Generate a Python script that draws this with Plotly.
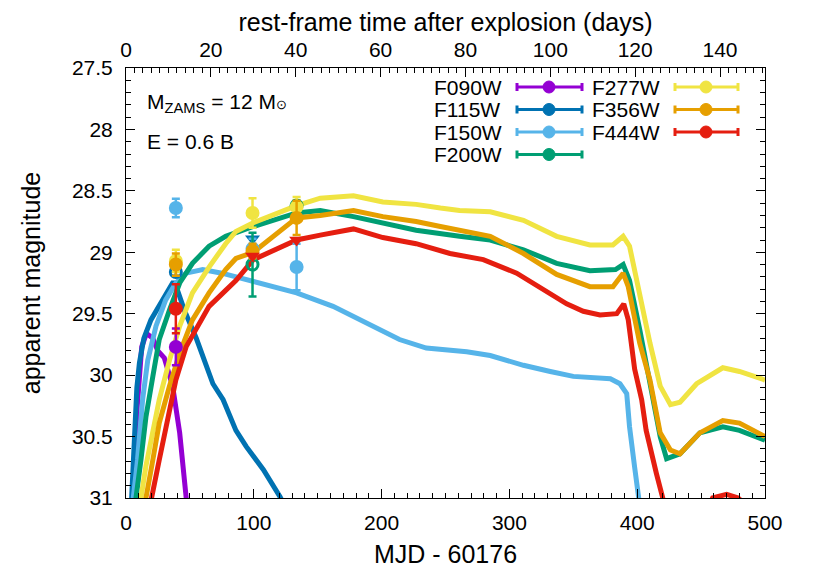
import plotly.graph_objects as go

# --- model light curves (MJD - 60176, apparent magnitude) -------------------

f090w_t = [3, 5.2, 8.4, 12.3, 16, 21, 24.8, 30, 36.5, 42, 47, 50]
f090w_m = [31.6, 31.0, 30.31, 29.77, 29.66, 29.7, 29.8, 29.86, 30.09, 30.47, 30.99, 31.3]

f115w_t = [3.5, 5, 6.5, 8.5, 10.5, 14, 19.5, 26, 32, 37, 40, 46, 55, 62, 68, 76, 86, 94,
           107.5, 120.5, 125]
f115w_m = [31.2, 30.9, 30.45, 30.1, 29.9, 29.7, 29.55, 29.44, 29.34, 29.24, 29.3, 29.48,
           29.7, 29.9, 30.07, 30.2, 30.45, 30.58, 30.77, 30.99, 31.08]

f150w_t = [4, 5.7, 9, 13, 17, 23.5, 31, 39, 47, 60, 75, 97, 133.5, 162, 188, 214, 235,
           266.6, 285, 311, 332, 350, 379, 386.5, 391.8, 394, 398, 401, 405]
f150w_m = [31.4, 31.0, 30.69, 30.2, 29.88, 29.6, 29.39, 29.25, 29.17, 29.14, 29.17, 29.23,
           29.33, 29.44, 29.58, 29.71, 29.78, 29.81, 29.84, 29.92, 29.97, 30.01, 30.03,
           30.07, 30.15, 30.42, 30.75, 30.99, 31.3]

f200w_t = [6, 7.8, 11.7, 15.6, 21, 26, 34, 42, 52, 65, 78, 99.6, 133.5, 152, 178, 201,
           227, 261, 285, 311, 337, 363, 383, 389, 394, 402, 410, 418, 423, 433.5, 449,
           467, 480, 500]
f200w_m = [31.3, 31.0, 30.69, 30.34, 30.01, 29.71, 29.47, 29.25, 29.09, 28.95, 28.87,
           28.79, 28.68, 28.66, 28.71, 28.76, 28.82, 28.87, 28.9, 28.98, 29.09, 29.15,
           29.14, 29.1, 29.23, 29.63, 30.04, 30.5, 30.68, 30.64, 30.47, 30.42, 30.45, 30.53]

f277w_t = [10, 11.7, 15.6, 21, 26, 34, 42, 52, 65, 78, 86, 99.6, 133.5, 152, 178, 201,
           227, 246, 261, 285, 311, 337, 363, 381, 389, 394, 402, 410, 418, 426, 433.5,
           446.5, 467, 480, 500]
f277w_m = [31.2, 31.0, 30.74, 30.47, 30.2, 29.88, 29.6, 29.33, 29.12, 28.93, 28.83, 28.76,
           28.62, 28.56, 28.54, 28.59, 28.61, 28.64, 28.66, 28.67, 28.74, 28.87, 28.94,
           28.94, 28.87, 28.95, 29.36, 29.74, 30.09, 30.24, 30.22, 30.07, 29.94, 29.97, 30.04]

f356w_t = [14, 15.6, 21, 26, 34, 42, 52, 65, 78, 86, 99.6, 133.5, 152, 178, 201, 227, 246,
           261, 285, 311, 337, 363, 381, 389, 393, 402, 410, 418, 426, 433.5, 449, 467,
           480, 500]
f356w_m = [31.2, 31.0, 30.69, 30.39, 30.09, 29.82, 29.55, 29.33, 29.14, 29.05, 29.0, 28.72,
           28.7, 28.66, 28.71, 28.75, 28.79, 28.82, 28.87, 29.01, 29.18, 29.28, 29.28,
           29.17, 29.28, 29.74, 30.04, 30.47, 30.61, 30.64, 30.47, 30.37, 30.39, 30.5]

f444w_t = [18, 20, 26, 32.6, 39, 47, 55, 65, 78, 86, 99.6, 133.5, 152, 178, 201, 227,
           253.5, 279.6, 305.7, 331.8, 344.8, 357.8, 370.9, 384, 389.5, 393, 398, 403.5,
           407, 415, 420, 430, 445, 459, 470, 479, 490, 500]
f444w_m = [31.2, 31.0, 30.69, 30.34, 30.04, 29.77, 29.63, 29.44, 29.31, 29.23, 29.06, 28.9,
           28.86, 28.81, 28.88, 28.93, 29.01, 29.06, 29.17, 29.33, 29.42, 29.48, 29.51,
           29.5, 29.42, 29.55, 29.95, 30.2, 30.45, 30.8, 30.99, 31.4, 31.3, 31.0, 30.97,
           31.0, 31.1, 31.15]

# --- observed photometry ---------------------------------------------------

obs = {
    "F090W": dict(t=[39], m=[29.77], e=[0.15]),
    "F115W": dict(t=[39], m=[29.16], e=[0.03]),
    "F150W": dict(t=[39, 99, 133.5], m=[28.64, 28.97, 29.12], e=[0.075, 0.08, 0.19]),
    "F200W": dict(t=[99, 133.5], m=[29.1, 28.62], e=[0.26, 0.04]),
    "F277W": dict(t=[39, 99, 133.5], m=[29.07, 28.68, 28.63], e=[0.09, 0.12, 0.08]),
    "F356W": dict(t=[39, 99, 133.5], m=[29.1, 28.99, 28.72], e=[0.09, 0.06, 0.14]),
    "F444W": dict(t=[39], m=[29.46], e=[0.2]),
}
# upper limits (down triangles)
ulim = {
    "F115W": dict(t=[99], m=[28.89]),
    "F444W": dict(t=[99, 133.5], m=[29.03, 28.9]),
}
open_markers = {"F115W", "F200W"}

filters = ["F090W", "F115W", "F150W", "F200W", "F277W", "F356W", "F444W"]
colors = ["#9400d3", "#0072b2", "#56b4e9", "#009e73", "#f0e442", "#e69f00", "#e51e10"]
curves = [(f090w_t, f090w_m), (f115w_t, f115w_m), (f150w_t, f150w_m), (f200w_t, f200w_m),
          (f277w_t, f277w_m), (f356w_t, f356w_m), (f444w_t, f444w_m)]

ONE_PLUS_Z = 3.32
FONT = "Liberation Sans, Arial, sans-serif"
FS = 21

fig = go.Figure()

for name, col, (t, m) in zip(filters, colors, curves):
    fig.add_trace(go.Scatter(x=t, y=m, mode="lines", line=dict(color=col, width=5),
                             showlegend=False, hoverinfo="skip"))

for name, col in zip(filters, colors):
    o = obs[name]
    sym = "circle-open" if name in open_markers else "circle"
    fig.add_trace(go.Scatter(
        x=o["t"], y=o["m"], mode="markers",
        marker=dict(color=col, size=11, symbol=sym, line=dict(color=col, width=3)),
        error_y=dict(type="data", array=o["e"], color=col, thickness=2.5, width=4),
        showlegend=False,
    ))
    if name in ulim:
        u = ulim[name]
        fig.add_trace(go.Scatter(
            x=u["t"], y=u["m"], mode="markers",
            marker=dict(color=col, size=13, symbol="triangle-down"),
            showlegend=False,
        ))

# dummy trace so the rest-frame axis is drawn
fig.add_trace(go.Scatter(x=[0], y=[27.4], xaxis="x2", mode="markers",
                         marker=dict(opacity=0), showlegend=False, hoverinfo="skip"))

# --- hand-built gnuplot style legend (label left, sample right) ------------
# page pixels of the plot frame -> paper coords
W, H, L, B = 639, 430, 126, 498


def px(x):
    return (x - L) / W


def py(y):
    return (B - y) / H


shapes = []
annotations = []
for i, (name, col) in enumerate(zip(filters, colors)):
    c, r = (0, i) if i < 4 else (1, i - 4)
    lab_x = [432, 590][c]
    x0, x1, xm = [(517, 582, 549), (675, 738, 706)][c]
    yy = 87 + r * 22.5
    annotations.append(dict(x=px(lab_x), y=py(yy), xref="paper", yref="paper",
                            text=name, showarrow=False, xanchor="left", yanchor="middle",
                            font=dict(size=FS, color="black", family=FONT)))
    shapes.append(dict(type="line", xref="paper", yref="paper", x0=px(x0), x1=px(x1),
                       y0=py(yy), y1=py(yy), line=dict(color=col, width=3)))
    for xe in (x0, x1):
        shapes.append(dict(type="line", xref="paper", yref="paper", x0=px(xe), x1=px(xe),
                           y0=py(yy - 4), y1=py(yy + 4), line=dict(color=col, width=3)))
    shapes.append(dict(type="circle", xref="paper", yref="paper",
                       x0=px(xm - 6), x1=px(xm + 6), y0=py(yy - 6), y1=py(yy + 6),
                       fillcolor=col, line=dict(color=col, width=1)))

annotations += [
    dict(x=px(145), y=py(103), xref="paper", yref="paper", showarrow=False,
         xanchor="left", yanchor="middle",
         text="M<sub>ZAMS</sub> = 12 M<span style='font-size:13px'>⊙</span>",
         font=dict(size=FS, color="black", family=FONT)),
    dict(x=px(145), y=py(141), xref="paper", yref="paper", showarrow=False,
         xanchor="left", yanchor="middle", text="E = 0.6 B",
         font=dict(size=FS, color="black", family=FONT)),
]

axis_common = dict(showline=True, linecolor="black", linewidth=1, ticks="inside",
                   tickcolor="black", ticklen=9, showgrid=False, zeroline=False,
                   automargin=False,
                   tickfont=dict(size=FS, color="black", family=FONT))

# the page body has an 8 px margin, so the frame is offset by that amount
fig.update_layout(
    width=817, height=572,
    margin=dict(l=118, r=60, t=60, b=82),
    plot_bgcolor="white", paper_bgcolor="white",
    font=dict(family=FONT, size=FS, color="black"),
    xaxis=dict(range=[0, 500], dtick=100, tick0=0, ticklabelstandoff=6,
               minor=dict(ticks="inside", dtick=10, ticklen=5, tickcolor="black"),
               title=dict(text="MJD - 60176", standoff=12), **axis_common),
    xaxis2=dict(range=[0, 500 / ONE_PLUS_Z], dtick=20, tick0=0, overlaying="x",
                side="top", anchor="y", ticklabelstandoff=2,
                minor=dict(ticks="inside", dtick=2, ticklen=5, tickcolor="black"),
                title=dict(text="rest-frame time after explosion (days)", standoff=14),
                **axis_common),
    yaxis=dict(range=[31, 27.5], dtick=0.5, tick0=27.5, mirror="ticks",
               ticklabelstandoff=8,
               minor=dict(ticks="inside", dtick=0.1, ticklen=5, tickcolor="black"),
               title=dict(text="apparent magnitude", standoff=24), **axis_common),
    shapes=shapes,
    annotations=annotations,
)

fig.write_html("out.html")
